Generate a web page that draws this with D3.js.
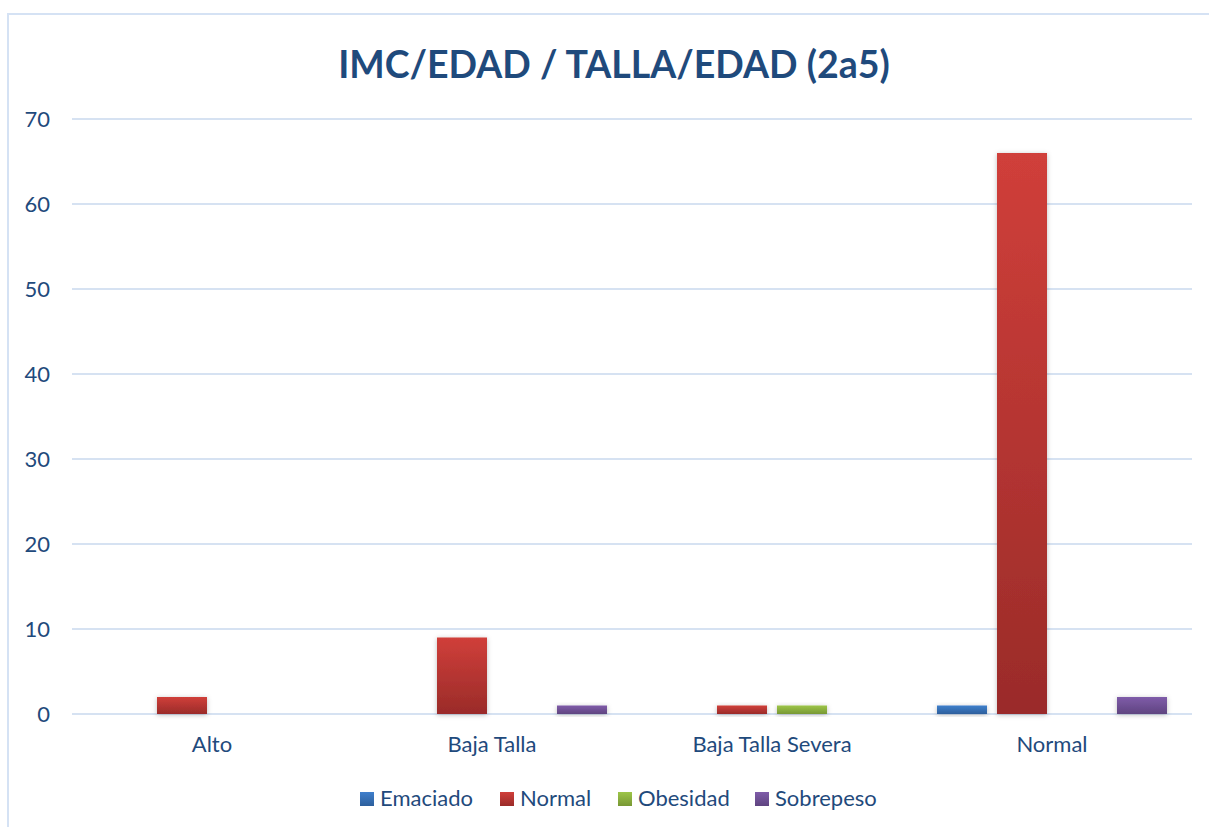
<!DOCTYPE html>
<html>
<head>
<meta charset="utf-8">
<script src="https://cdn.jsdelivr.net/npm/d3@7"></script>
<style>
  body { margin: 0; background: #fff; }
  text { font-family: Lato, "Open Sans", sans-serif; }
</style>
</head>
<body>
<div id="container"></div>
<script>
// chart data
const title = "IMC/EDAD / TALLA/EDAD (2a5)";
const categories = ["Alto", "Baja Talla", "Baja Talla Severa", "Normal"];
const seriesNames = ["Emaciado", "Normal", "Obesidad", "Sobrepeso"];
const emaciado = [0, 0, 0, 1];
const normal = [2, 9, 1, 66];
const obesidad = [0, 0, 1, 0];
const sobrepeso = [0, 1, 0, 2];
const yTicks = [0, 10, 20, 30, 40, 50, 60, 70];

const seriesValues = [emaciado, normal, obesidad, sobrepeso];
const seriesColors = [
  ["#3f7fcc", "#2d5f9c"],
  ["#d03f3a", "#9a2b29"],
  ["#9dc548", "#789834"],
  ["#7f5ca9", "#5f4480"]
];

const width = 1209, height = 827;
const marginLeft = 72, marginRight = 17, marginTop = 119, marginBottom = 113;
const textColor = "#1f4a7c";
const labelSize = 22;

const svg = d3.create("svg")
    .attr("width", width)
    .attr("height", height)
    .attr("viewBox", [0, 0, width, height]);

const defs = svg.append("defs");
seriesColors.forEach((c, i) => {
  const g = defs.append("linearGradient")
      .attr("id", "grad" + i)
      .attr("x1", 0).attr("y1", 0).attr("x2", 0).attr("y2", 1);
  g.append("stop").attr("offset", "0%").attr("stop-color", c[0]);
  g.append("stop").attr("offset", "100%").attr("stop-color", c[1]);
});
const shadow = defs.append("filter").attr("id", "shadow")
    .attr("x", "-30%").attr("y", "-30%").attr("width", "160%").attr("height", "160%");
shadow.append("feDropShadow")
    .attr("dx", 0).attr("dy", 1).attr("stdDeviation", 2.5)
    .attr("flood-color", "#000").attr("flood-opacity", 0.25);

// outer chart border
svg.append("rect")
    .attr("x", 8).attr("y", 14)
    .attr("width", width + 20).attr("height", height + 20)
    .attr("fill", "none")
    .attr("stroke", "#d5e2f4")
    .attr("stroke-width", 2);

const x = d3.scaleBand()
    .domain(categories)
    .range([marginLeft, width - marginRight]);

const x1 = d3.scaleBand()
    .domain(seriesNames)
    .range([0, 230])
    .paddingInner(10 / 60);

const y = d3.scaleLinear()
    .domain([0, 70])
    .range([height - marginBottom, marginTop]);

// gridlines
svg.append("g")
  .selectAll("line")
  .data(yTicks)
  .join("line")
    .attr("x1", marginLeft)
    .attr("x2", width - marginRight)
    .attr("y1", d => y(d))
    .attr("y2", d => y(d))
    .attr("stroke", "#d6e2f2")
    .attr("stroke-width", 2);

// y tick labels
svg.append("g")
  .selectAll("text")
  .data(yTicks)
  .join("text")
    .attr("x", 50)
    .attr("y", d => y(d))
    .attr("dy", "0.36em")
    .attr("text-anchor", "end")
    .attr("fill", textColor)
    .attr("font-size", labelSize)
    .text(d => d);

// bars
const groups = svg.append("g")
  .selectAll("g")
  .data(categories)
  .join("g")
    .attr("transform", d => `translate(${x(d) + x.bandwidth() / 2 - 115},0)`);

groups.selectAll("rect")
  .data((c, ci) => seriesNames.map((s, si) => ({s, si, v: seriesValues[si][ci]})).filter(d => d.v > 0))
  .join("rect")
    .attr("x", d => x1(d.s))
    .attr("width", x1.bandwidth())
    .attr("y", d => y(d.v))
    .attr("height", d => y(0) - y(d.v))
    .attr("fill", d => `url(#grad${d.si})`)
    .attr("filter", "url(#shadow)");

// category labels
svg.append("g")
  .selectAll("text")
  .data(categories)
  .join("text")
    .attr("x", d => x(d) + x.bandwidth() / 2)
    .attr("y", y(0) + 38)
    .attr("text-anchor", "middle")
    .attr("fill", textColor)
    .attr("font-size", labelSize)
    .text(d => d);

// title
svg.append("text")
    .attr("x", 614)
    .attr("y", 78)
    .attr("text-anchor", "middle")
    .attr("fill", "#1f4a7c")
    .attr("font-size", 37.5)
    .attr("font-weight", "bold")
    .text(title);

// legend
const legendX = [360, 500, 618, 755];
const legend = svg.append("g")
  .selectAll("g")
  .data(seriesNames)
  .join("g")
    .attr("transform", (d, i) => `translate(${legendX[i]},792)`);
legend.append("rect")
    .attr("width", 14).attr("height", 14)
    .attr("fill", (d, i) => `url(#grad${i})`);
legend.append("text")
    .attr("x", 20)
    .attr("y", 14)
    .attr("fill", textColor)
    .attr("font-size", labelSize)
    .text(d => d);

document.getElementById("container").append(svg.node());
</script>
</body>
</html>
